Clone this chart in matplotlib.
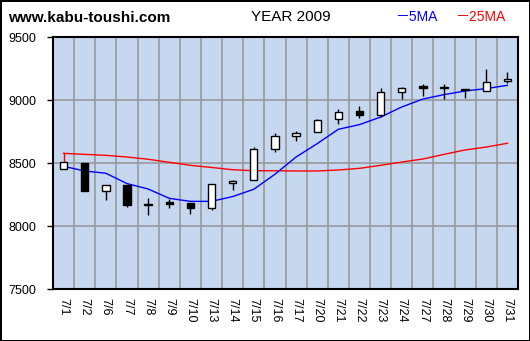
import numpy as np
import matplotlib.pyplot as plt

dates = ['7/1', '7/2', '7/6', '7/7', '7/8', '7/9', '7/10', '7/13', '7/14', '7/15', '7/16',
         '7/17', '7/20', '7/21', '7/22', '7/23', '7/24', '7/27', '7/28', '7/29', '7/30', '7/31']
open_ = [8452, 8500, 8280, 8328, 8180, 8195, 8183, 8145, 8340, 8370, 8617,
         8720, 8752, 8855, 8913, 8883, 9066, 9117, 9100, 9093, 9077, 9153]
high = [8508, 8500, 8325, 8328, 8222, 8220, 8183, 8335, 8365, 8627, 8738,
        8757, 8855, 8929, 8952, 9095, 9106, 9130, 9127, 9093, 9246, 9222]
low = [8452, 8280, 8206, 8153, 8090, 8145, 8100, 8130, 8288, 8365, 8590,
       8680, 8752, 8812, 8860, 8867, 9010, 9034, 9010, 9018, 9077, 9137]
close = [8508, 8280, 8325, 8167, 8170, 8180, 8145, 8333, 8357, 8617, 8714,
         8744, 8847, 8910, 8887, 9069, 9095, 9101, 9097, 9082, 9148, 9172]
ma5 = [8476, 8439, 8421, 8339, 8296, 8222, 8198, 8198, 8236, 8294, 8413,
       8550, 8656, 8770, 8807, 8867, 8947, 9010, 9045, 9074, 9093, 9119]
ma25 = [8579, 8571, 8563, 8550, 8532, 8508, 8484, 8467, 8449, 8441, 8441,
        8439, 8439, 8447, 8460, 8484, 8510, 8534, 8571, 8606, 8629, 8659]
yticks = [7500, 8000, 8500, 9000, 9500]

x = np.arange(len(dates))
o = np.array(open_)
c = np.array(close)

fig = plt.figure(figsize=(5.3, 3.41), dpi=100)
fig.patch.set_facecolor('white')
fig.patch.set_edgecolor('black')
fig.patch.set_linewidth(2)

ax = fig.add_axes([53/530, 51.7/341, 465/530, 252/341])
ax.set_facecolor('#c6d8f0')
ax.set_xlim(-0.5, len(dates) - 0.5)
ax.set_ylim(7500, 9500)

# grid: horizontal at price ticks, vertical between days
ax.set_yticks(yticks)
ax.set_xticks(x)
ax.set_xticklabels(dates, rotation=270, fontsize=9, family='Liberation Sans')
ax.set_xticks(x[:-1] + 0.5, minor=True)
ax.grid(True, axis='y', which='major', color='#999999', linewidth=1.2)
ax.grid(True, axis='x', which='minor', color='#999999', linewidth=1.2)
ax.tick_params(axis='x', which='both', length=0, pad=6)
ax.tick_params(axis='y', length=4, width=1, labelsize=9, pad=8)
for lab in ax.get_yticklabels():
    lab.set_family('Liberation Sans')
for sp in ax.spines.values():
    sp.set_linewidth(1.5)

# moving averages
ax.plot(x, ma25, color='red', linewidth=1, zorder=3)
ax.plot([0, 0], [close[0], ma25[0]], color='red', linewidth=1, zorder=3)
ax.plot(x, ma5, color='blue', linewidth=1, zorder=3)

# candlesticks
ax.vlines(x, low, high, color='black', linewidth=1, zorder=4)
up = c >= o
body = np.maximum(np.abs(c - o), 8)
bottom = np.minimum(o, c)
ax.bar(x, body, bottom=bottom, width=0.35,
       color=np.where(up, 'white', 'black'), edgecolor='black', linewidth=1, zorder=5)

fig.text(8/530, 1 - 18/341, 'www.kabu-toushi.com', fontsize=11, fontweight='bold',
         family='Liberation Sans', va='center', ha='left')
fig.text(291/530, 1 - 17/341, 'YEAR 2009', fontsize=11, family='Liberation Sans',
         va='center', ha='center')
fig.text(395/530, 1 - 17/341, '－5MA', fontsize=10, color='blue',
         family=['Liberation Sans', 'Noto Sans CJK JP'], va='center', ha='left')
fig.text(455/530, 1 - 17/341, '－25MA', fontsize=10, color='red',
         family=['Liberation Sans', 'Noto Sans CJK JP'], va='center', ha='left')

fig.savefig('out.png', dpi=100, facecolor=fig.get_facecolor(), edgecolor=fig.get_edgecolor())
